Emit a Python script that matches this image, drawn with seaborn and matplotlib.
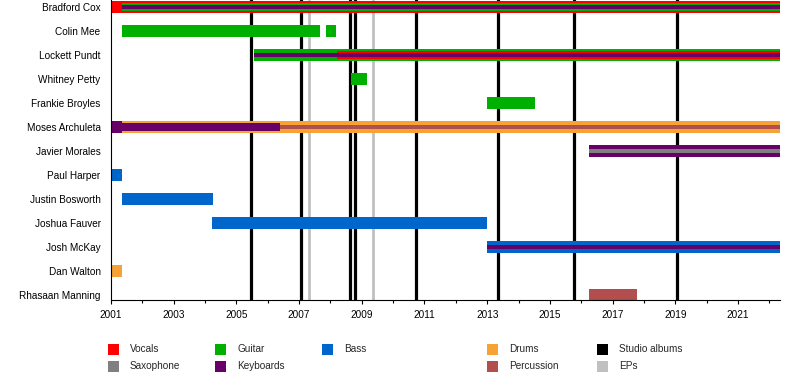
import pandas as pd
import matplotlib.pyplot as plt
from matplotlib.patches import Rectangle
import seaborn as sns

# Band members, top to bottom
members = ["Bradford Cox", "Colin Mee", "Lockett Pundt", "Whitney Petty",
           "Frankie Broyles", "Moses Archuleta", "Javier Morales", "Paul Harper",
           "Justin Bosworth", "Joshua Fauver", "Josh McKay", "Dan Walton",
           "Rhasaan Manning"]

END = 2022.34

# Membership segments (layer 0 = main role, 1 = second role, 2 = third role)
seg_member = ["Bradford Cox", "Bradford Cox", "Bradford Cox",
              "Colin Mee", "Colin Mee",
              "Lockett Pundt", "Lockett Pundt", "Lockett Pundt",
              "Whitney Petty", "Frankie Broyles",
              "Moses Archuleta", "Moses Archuleta", "Moses Archuleta", "Moses Archuleta",
              "Javier Morales", "Javier Morales",
              "Paul Harper", "Justin Bosworth", "Joshua Fauver",
              "Josh McKay", "Josh McKay",
              "Dan Walton", "Rhasaan Manning"]
seg_role = ["Vocals", "Guitar", "Keyboards",
            "Guitar", "Guitar",
            "Guitar", "Keyboards", "Vocals",
            "Guitar", "Guitar",
            "Keyboards", "Drums", "Keyboards", "Percussion",
            "Keyboards", "Saxophone",
            "Bass", "Bass", "Bass",
            "Bass", "Keyboards",
            "Drums", "Percussion"]
seg_start = [2001.0, 2001.35, 2001.35,
             2001.35, 2007.86,
             2005.56, 2005.56, 2008.21,
             2008.66, 2012.99,
             2001.0, 2001.35, 2001.35, 2006.39,
             2016.25, 2016.25,
             2001.0, 2001.35, 2004.22,
             2013.0, 2013.0,
             2001.0, 2016.25]
seg_end = [END, END, END,
           2007.67, 2008.17,
           END, END, END,
           2009.16, 2014.52,
           2001.35, END, 2006.39, END,
           END, END,
           2001.35, 2004.24, 2013.0,
           END, END,
           2001.35, 2017.78]
seg_layer = [0, 1, 2,
             0, 0,
             0, 2, 1,
             0, 0,
             0, 0, 1, 2,
             0, 2,
             0, 0, 0,
             0, 2,
             0, 0]

years = list(range(2001, 2023))
year_labels = [str(y) for y in range(2001, 2023, 2)]

studio_albums = [2005.48, 2007.07, 2008.62, 2008.79, 2010.73, 2013.35, 2015.78, 2019.06]
eps = [2007.33, 2009.37]

role_colors = {"Vocals": "#ff0000", "Saxophone": "#808080", "Guitar": "#00b000",
               "Keyboards": "#680068", "Bass": "#0066cc", "Drums": "#f7a234",
               "Percussion": "#b24e4e", "Studio albums": "#000000", "EPs": "#c0c0c0"}

df = pd.DataFrame({"member": seg_member, "role": seg_role,
                   "start": seg_start, "end": seg_end, "layer": seg_layer})
df["row"] = df["member"].map({m: i for i, m in enumerate(members)})

sns.set_style("white")
plt.rcParams["font.family"] = ["Liberation Sans", "DejaVu Sans"]

fig = plt.figure(figsize=(8, 3.8), dpi=100)
ax = fig.add_axes([111 / 800, 80 / 380, 669 / 800, 300 / 380])

# release lines behind the bars
for x in studio_albums:
    ax.axvline(x, color=role_colors["Studio albums"], lw=2.3, zorder=1)
for x in eps:
    ax.axvline(x, color=role_colors["EPs"], lw=2.0, zorder=1)

heights = {0: 12 / 24, 1: 7.5 / 24, 2: 3.5 / 24}
for layer in [0, 1, 2]:
    sub = df[df["layer"] == layer]
    ax.barh(sub["row"], sub["end"] - sub["start"], left=sub["start"],
            height=heights[layer], color=sub["role"].map(role_colors),
            linewidth=0, zorder=2 + layer)

ax.set_xlim(2001, END)
ax.set_ylim(len(members) - 1 + 5 / 24, -7 / 24)
ax.set_yticks(range(len(members)))
ax.set_yticklabels(members)
ax.set_xticks(years[::2])
ax.set_xticklabels(year_labels)
ax.set_xticks(years, minor=True)
ax.tick_params(axis="x", which="major", direction="out", length=3, width=0.8,
               colors="black", labelsize=7.2, pad=4, bottom=True)
ax.tick_params(axis="x", which="minor", direction="out", length=2, width=0.8,
               colors="black", bottom=True)
ax.tick_params(axis="y", length=0, labelsize=7.2, pad=7.5, labelcolor="black")
sns.despine(ax=ax)
for side in ["left", "bottom"]:
    ax.spines[side].set_color("black")
    ax.spines[side].set_linewidth(0.8)

# legend laid out in columns like the original
legend_items = [("Vocals", 108, 349), ("Saxophone", 108, 366),
                ("Guitar", 215, 349), ("Keyboards", 215, 366),
                ("Bass", 322, 349),
                ("Drums", 487, 349), ("Percussion", 487, 366),
                ("Studio albums", 597, 349), ("EPs", 597, 366)]
for label, px, py in legend_items:
    fig.add_artist(Rectangle((px / 800, 1 - (py + 5.5) / 380), 11 / 800, 11 / 380,
                             transform=fig.transFigure, color=role_colors[label], lw=0))
    fig.text((px + 22) / 800, 1 - py / 380, label, fontsize=7.2, va="center", ha="left")

fig.savefig("out.png", dpi=100)
